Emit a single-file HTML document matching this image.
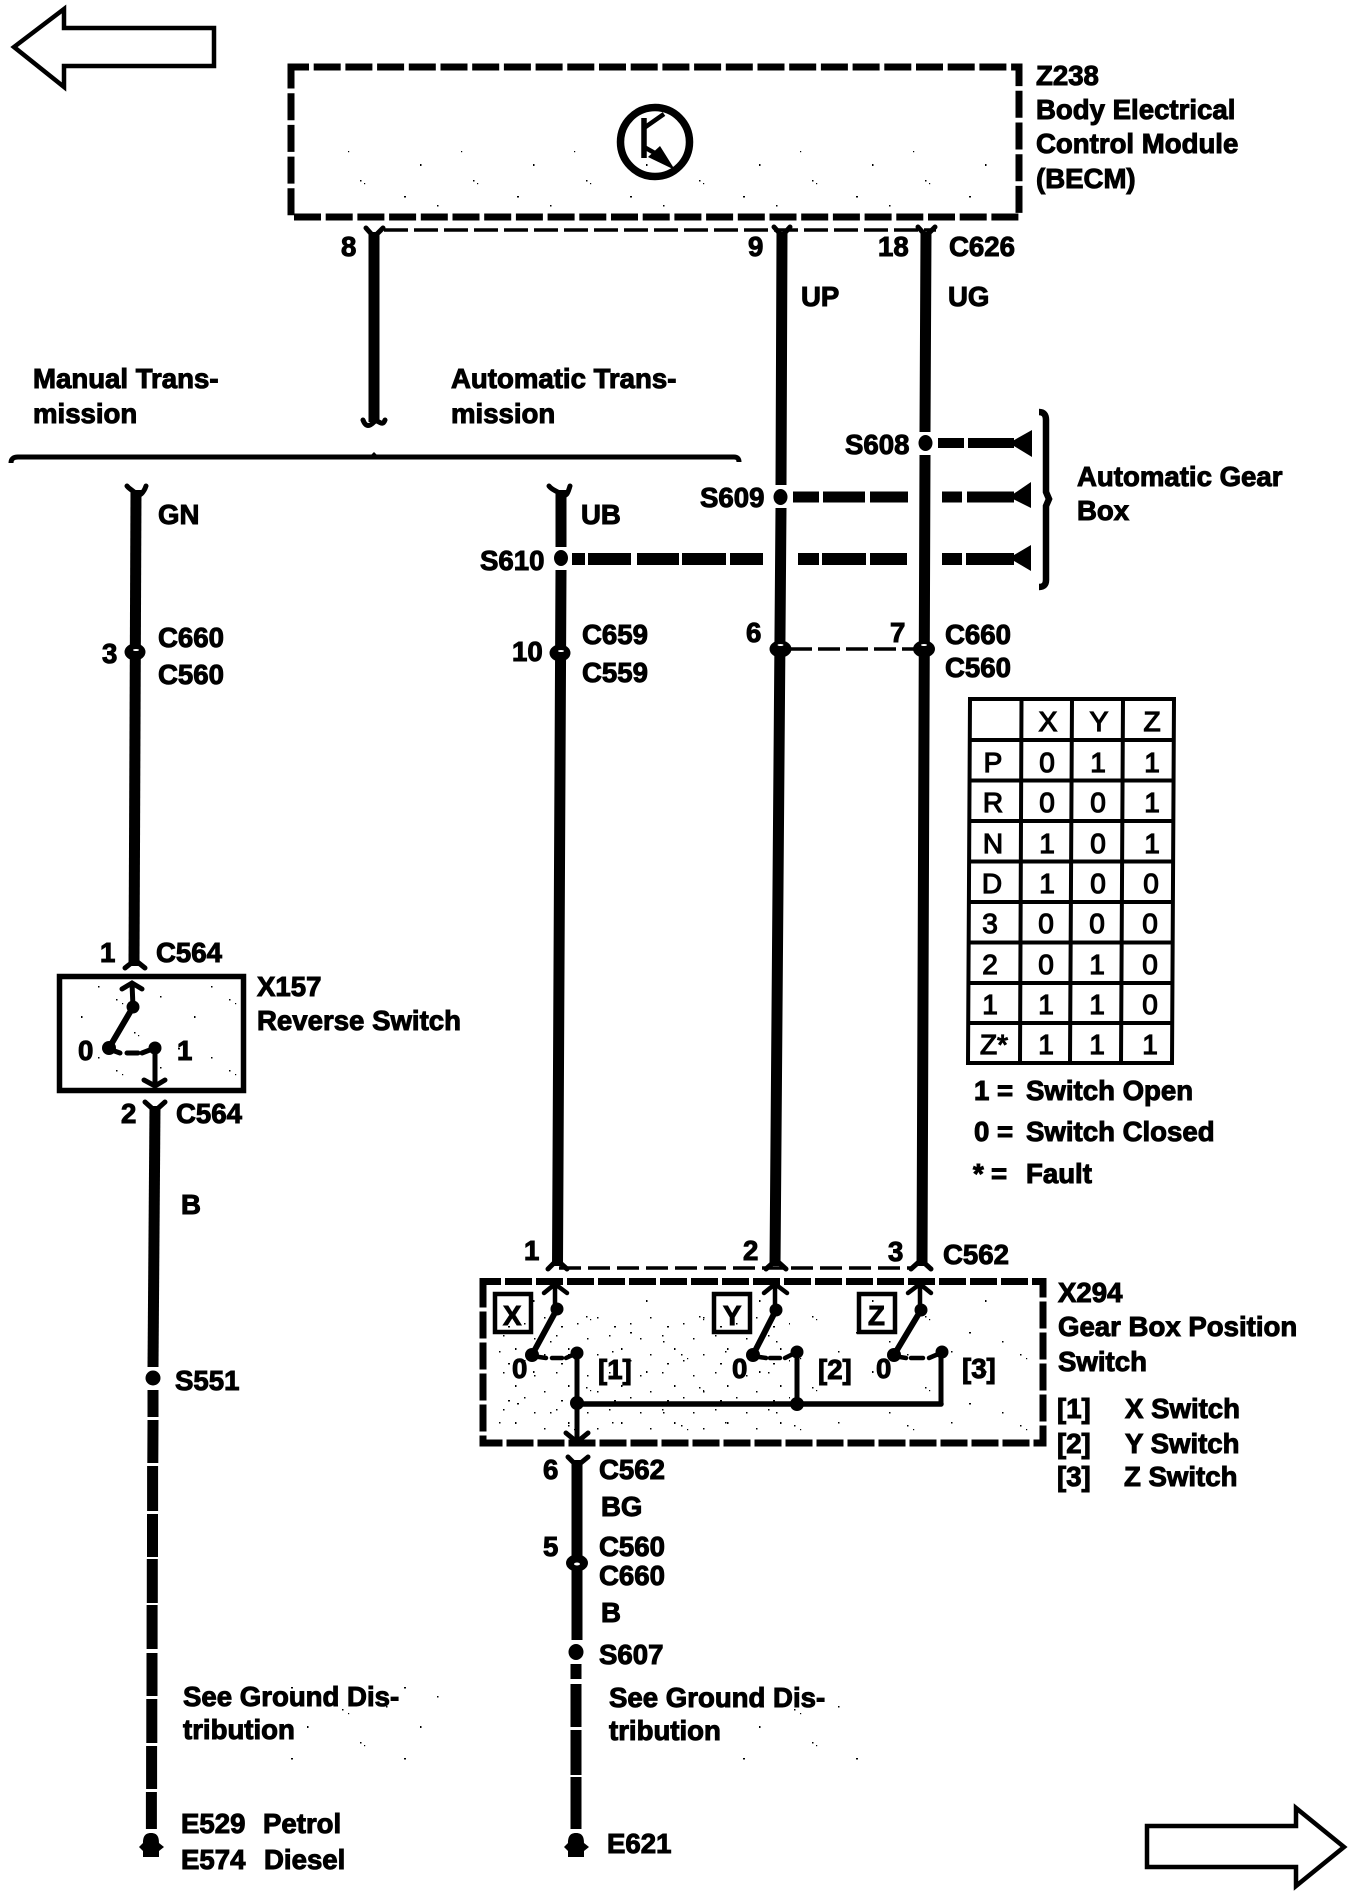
<!DOCTYPE html>
<html><head><meta charset="utf-8"><style>
html,body{margin:0;padding:0;background:#fff}
svg{display:block}
text{font-family:"Liberation Sans",Arial,sans-serif;font-weight:700;font-size:27.6px;fill:#000;stroke:#000;stroke-width:1px}
.t text{font-weight:400;font-size:28px;text-anchor:middle;stroke-width:1.2px}
</style></head><body>
<svg width="1360" height="1894" viewBox="0 0 1360 1894" xmlns="http://www.w3.org/2000/svg">
<defs>
<pattern id="sp" width="113" height="71" patternUnits="userSpaceOnUse">
<rect x="3" y="5" width="1.5" height="1.5"/><rect x="9" y="9" width="1.2" height="1.2"/><rect x="47" y="2" width="1.5" height="1.5"/><rect x="81" y="22" width="1.5" height="2"/><rect x="21" y="38" width="1.5" height="1.5"/><rect x="25" y="41" width="1.2" height="1.2"/><rect x="65" y="54" width="2" height="1.5"/><rect x="98" y="63" width="1.5" height="1.5"/>
</pattern>
<pattern id="sq" width="53" height="37" patternUnits="userSpaceOnUse">
<rect x="4" y="6" width="1.5" height="1.5"/><rect x="26" y="3" width="1.5" height="1.5"/><rect x="38" y="16" width="1.5" height="2"/><rect x="14" y="22" width="1.5" height="1.5"/><rect x="31" y="31" width="2" height="1.5"/><rect x="47" y="28" width="1.5" height="1.5"/>
</pattern>
</defs>
<rect width="1360" height="1894" fill="#fff"/>

<!-- speckle -->
<rect x="330" y="150" width="660" height="62" fill="url(#sp)"/>
<rect x="70" y="985" width="170" height="100" fill="url(#sp)"/>
<rect x="490" y="1290" width="545" height="148" fill="url(#sp)"/>
<rect x="500" y="1315" width="290" height="115" fill="url(#sq)"/>
<rect x="290" y="1685" width="160" height="80" fill="url(#sp)"/>
<rect x="720" y="1690" width="150" height="70" fill="url(#sp)"/>

<!-- page arrows -->
<g fill="none" stroke="#000" stroke-width="4.5" stroke-linejoin="miter">
<path d="M214 28V66H64V87L14 47L64 9V28Z"/>
<path d="M1147 1826V1867H1296V1886L1344 1847L1296 1808V1826Z"/>
</g>

<!-- BECM -->
<rect x="291" y="67" width="728" height="150" fill="none" stroke="#000" stroke-width="7" stroke-dasharray="27 4.7" stroke-dashoffset="9"/>
<circle cx="655" cy="142" r="34.5" fill="none" stroke="#000" stroke-width="7.5"/>
<path d="M644 118V158" stroke="#000" stroke-width="5.5"/>
<path d="M644 128L664 114M644 147L660 156" stroke="#000" stroke-width="4.5" fill="none"/>
<path d="M660 146L675 170L648 157Z"/>
<path d="M384 230H936" stroke="#000" stroke-width="3.5" stroke-dasharray="24 6" fill="none"/>

<!-- wires -->
<g stroke="#000" stroke-width="11" fill="none">
<path d="M374 232V422"/>
<path d="M782 232L781 485M781 508L775 1266"/>
<path d="M926 232L925 432M925 455L922 1266"/>
<path d="M561 490V547M561 570L557.5 1266"/>
<path d="M136 490L134 966"/>
<path d="M155 1106L153 1367"/>
<path d="M153 1390V1417M153 1420L152.8 1463M152.6 1466V1511M152.5 1514V1557M152.3 1559V1603M152.1 1605V1649M152 1653V1696M151.8 1699V1743M151.6 1746V1789M151.4 1792V1829"/>
<path d="M577 1460V1640M576 1664V1679M576 1684V1727M576 1730V1775M576 1777V1829"/>
</g>

<!-- forks -->
<g stroke="#000" stroke-width="5" fill="none" stroke-linecap="round">
<path d="M366 228L374 237L383 228M774 227L782 236L790 227M918 227L926 236L935 227"/>
<path d="M125 968L135 960L145 968M548 1269L557 1260L567 1269M766 1269L776 1260L786 1269M911 1269L921 1260L931 1269"/>
<path d="M145 1102L155 1111L165 1102M568 1457L577 1466L588 1457"/>
<path d="M363 420C366 428 370 426 374 422S382 428 385 420"/>
<path d="M127 486C130 490 133 490 136 494S144 492 146 486M549 486C552 490 555 490 561 494S568 492 570 486"/>
</g>
<path d="M559 1268H912" stroke="#000" stroke-width="3.5" stroke-dasharray="22 7" fill="none"/>

<!-- horizontal divider -->
<path d="M11 463Q11 457 18 457H734Q739 457 739 462" stroke="#000" stroke-width="5" fill="none"/>
<path d="M371 455L374 452L377 455Z"/>

<!-- splices -->
<g>
<ellipse cx="925.5" cy="443" rx="7" ry="8"/>
<ellipse cx="780.5" cy="497" rx="7" ry="8"/>
<ellipse cx="561" cy="558" rx="7" ry="8"/>
<ellipse cx="153" cy="1378" rx="7.5" ry="7.5"/>
<ellipse cx="576" cy="1652" rx="7.5" ry="8"/>
</g>

<!-- S dashes -->
<g>
<rect x="938" y="438" width="26" height="10"/><rect x="968" y="438" width="46" height="10"/><path d="M1009 443L1032 430V457Z"/>
<rect x="793" y="491.500" width="26" height="11"/><rect x="823" y="491.500" width="42" height="11"/><rect x="870" y="491.500" width="38" height="11"/><rect x="942" y="491.500" width="20" height="11"/><rect x="967" y="491.500" width="47" height="11"/><path d="M1009 497L1031 482V508Z"/>
<rect x="572" y="553" width="13" height="12"/><rect x="588" y="553" width="43" height="12"/><rect x="637" y="553" width="42" height="12"/><rect x="682" y="553" width="44" height="12"/><rect x="730" y="553" width="33" height="12"/><rect x="798" y="553" width="21" height="12"/><rect x="822" y="553" width="44" height="12"/><rect x="870" y="553" width="37" height="12"/><rect x="942" y="553" width="20" height="12"/><rect x="966" y="553" width="48" height="12"/><path d="M1009 558L1031 545V571Z"/>
</g>

<!-- bracket -->
<path d="M1039 412Q1046 412 1046 420V492L1049 499L1046 506V580Q1046 587 1039 587" fill="none" stroke="#000" stroke-width="6.5"/>

<!-- C connectors -->
<g>
<ellipse cx="135" cy="652" rx="10.500" ry="8.500"/><ellipse cx="560" cy="653" rx="10.500" ry="8.500"/><ellipse cx="780.500" cy="649" rx="11" ry="8.500"/><ellipse cx="924" cy="649" rx="11" ry="8.500"/><ellipse cx="577" cy="1563" rx="11" ry="8.500"/>
</g>
<g fill="#fff">
<ellipse cx="136" cy="650" rx="3" ry="1"/><ellipse cx="561" cy="651" rx="3" ry="1"/><ellipse cx="780.500" cy="645" rx="3" ry="1"/><ellipse cx="924" cy="645" rx="3" ry="1"/><ellipse cx="577" cy="1564" rx="3" ry="1.500"/>
</g>
<path d="M790 649H915" stroke="#000" stroke-width="3.5" stroke-dasharray="22 6" fill="none"/>

<!-- X157 -->
<rect x="59.500" y="976.500" width="184" height="114" fill="none" stroke="#000" stroke-width="5.500"/>
<g stroke="#000" fill="none" stroke-width="5" stroke-linecap="round">
<path d="M133 1007L132 983M122 989L132 983L142 989"/>
<path d="M133 1007L109 1048" stroke-width="6"/>
<path d="M109 1049L120 1053M127 1053H138M142 1053L155 1048"/>
<path d="M155 1048V1084M144 1080L155 1086L165 1080"/>
</g>
<circle cx="133" cy="1007" r="6.500"/><circle cx="109" cy="1048" r="7"/><circle cx="155" cy="1048" r="6.500"/>

<!-- X294 -->
<rect x="483" y="1281.500" width="560" height="161.500" fill="none" stroke="#000" stroke-width="7" stroke-dasharray="27 4" stroke-dashoffset="9"/>
<g fill="none" stroke="#000" stroke-width="4.500" stroke-linecap="round">
<rect x="495" y="1294" width="36" height="38"/><rect x="714" y="1294" width="36" height="38"/><rect x="859" y="1294" width="36" height="38"/>
<path d="M555 1284V1309M544 1293L555 1284L567 1293"/>
<path d="M775 1284V1309M764 1293L775 1284L787 1293"/>
<path d="M920 1284V1309M908 1293L920 1284L931 1293"/>
<path d="M557 1309L532 1355M776 1310L753 1355M921 1310L894 1355" stroke-width="6"/>
<path d="M532 1356L546 1358M552 1358H562M566 1358L577 1353"/>
<path d="M753 1356L766 1358M770 1358H780M785 1358L797 1352"/>
<path d="M894 1356L906 1358M911 1358H923M929 1358L943 1352"/>
<path d="M577 1353V1440M566 1433L577 1442L588 1433M797 1352V1404M941 1352V1404" stroke-width="5"/>
<path d="M577 1404H941" stroke-width="5.500"/>
</g>
<g>
<circle cx="557" cy="1309" r="6.500"/><circle cx="532" cy="1355" r="7"/><circle cx="577" cy="1353" r="6.500"/><circle cx="577" cy="1403" r="7"/>
<circle cx="776" cy="1310" r="6.500"/><circle cx="753" cy="1355" r="7"/><circle cx="797" cy="1352" r="6.500"/><circle cx="797" cy="1404" r="7"/>
<circle cx="921" cy="1310" r="6.500"/><circle cx="894" cy="1355" r="7"/><circle cx="942" cy="1352" r="6.500"/>
</g>

<!-- grounds -->
<g>
<path d="M151 1833C144 1833 143 1838 143 1843L139 1847L143 1851V1857H159V1851L164 1847L159 1843C159 1838 158 1833 151 1833Z"/>
<path d="M576 1833C569 1833 568 1838 568 1843L564 1847L568 1851V1857H584V1851L589 1847L584 1843C584 1838 583 1833 576 1833Z"/>
</g>

<!-- table -->
<g stroke="#000" stroke-width="4" fill="none">
<path d="M970 699H1174L1172 1063H968Z"/>
<path d="M1021.500 699L1020 1063M1072 699L1070 1063M1123 699L1121 1063"/>
<path d="M970 740H1173.500M969.800 780.500H1173.300M969.500 821H1173M969.300 861.500H1173M969 902H1172.800M968.800 942.500H1172.500M968.500 983H1172.300M968.300 1023H1172"/>
</g>
<g class="t">
<text x="1048" y="731">X</text><text x="1099" y="731">Y</text><text x="1152" y="731">Z</text>
<text x="993" y="772">P</text><text x="1047" y="772">0</text><text x="1098" y="772">1</text><text x="1152" y="772">1</text>
<text x="993" y="812">R</text><text x="1047" y="812">0</text><text x="1098" y="812">0</text><text x="1152" y="812">1</text>
<text x="993" y="853">N</text><text x="1047" y="853">1</text><text x="1098" y="853">0</text><text x="1152" y="853">1</text>
<text x="992" y="893">D</text><text x="1047" y="893">1</text><text x="1098" y="893">0</text><text x="1151" y="893">0</text>
<text x="990" y="933">3</text><text x="1046" y="933">0</text><text x="1097" y="933">0</text><text x="1150" y="933">0</text>
<text x="990" y="974">2</text><text x="1046" y="974">0</text><text x="1097" y="974">1</text><text x="1150" y="974">0</text>
<text x="990" y="1014">1</text><text x="1046" y="1014">1</text><text x="1097" y="1014">1</text><text x="1150" y="1014">0</text>
<text x="994" y="1054">Z*</text><text x="1046" y="1054">1</text><text x="1097" y="1054">1</text><text x="1150" y="1054">1</text>
</g>

<!-- labels -->
<text x="1036" y="85">Z238</text>
<text x="1036" y="119">Body Electrical</text>
<text x="1036" y="153">Control Module</text>
<text x="1036" y="188">(BECM)</text>
<text x="341" y="256">8</text><text x="748" y="256">9</text><text x="878" y="256">18</text><text x="949" y="256">C626</text>
<text x="801" y="306">UP</text><text x="948" y="306">UG</text>
<text x="33" y="388">Manual Trans-</text><text x="33" y="423">mission</text>
<text x="451" y="388">Automatic Trans-</text><text x="451" y="423">mission</text>
<text x="845" y="454">S608</text><text x="700" y="507">S609</text><text x="480" y="570">S610</text>
<text x="1077" y="486">Automatic Gear</text><text x="1077" y="520">Box</text>
<text x="158" y="524">GN</text><text x="581" y="524">UB</text>
<text x="158" y="647">C660</text><text x="158" y="684">C560</text><text x="102" y="663">3</text>
<text x="512" y="661">10</text><text x="582" y="644">C659</text><text x="582" y="682">C559</text>
<text x="746" y="642">6</text><text x="890" y="642">7</text><text x="945" y="644">C660</text><text x="945" y="677">C560</text>
<text x="974" y="1100">1 =</text><text x="1026" y="1100">Switch Open</text>
<text x="974" y="1141">0 =</text><text x="1026" y="1141">Switch Closed</text>
<text x="973" y="1183">*</text><text x="991" y="1183">=</text><text x="1026" y="1183">Fault</text>
<text x="100" y="962">1</text><text x="156" y="962">C564</text>
<text x="257" y="996">X157</text><text x="257" y="1030">Reverse Switch</text>
<text x="78" y="1060">0</text><text x="177" y="1060">1</text>
<text x="121" y="1123">2</text><text x="176" y="1123">C564</text>
<text x="181" y="1214">B</text><text x="175" y="1390">S551</text>
<text x="524" y="1260">1</text><text x="743" y="1260">2</text><text x="888" y="1261">3</text><text x="943" y="1264">C562</text>
<text x="503" y="1325">X</text><text x="723" y="1325">Y</text><text x="868" y="1325">Z</text>
<text x="512" y="1378">0</text><text x="732" y="1378">0</text><text x="876" y="1378">0</text>
<text x="598" y="1379">[1]</text><text x="818" y="1379">[2]</text><text x="962" y="1378">[3]</text>
<text x="1058" y="1302">X294</text><text x="1058" y="1336">Gear Box Position</text><text x="1058" y="1371">Switch</text>
<text x="1057" y="1418">[1]</text><text x="1125" y="1418">X Switch</text>
<text x="1057" y="1453">[2]</text><text x="1125" y="1453">Y Switch</text>
<text x="1057" y="1486">[3]</text><text x="1124" y="1486">Z Switch</text>
<text x="543" y="1479">6</text><text x="599" y="1479">C562</text><text x="601" y="1516">BG</text>
<text x="543" y="1556">5</text><text x="599" y="1556">C560</text><text x="599" y="1585">C660</text>
<text x="601" y="1622">B</text><text x="599" y="1664">S607</text>
<text x="183" y="1706">See Ground Dis-</text><text x="183" y="1739">tribution</text>
<text x="609" y="1707">See Ground Dis-</text><text x="609" y="1740">tribution</text>
<text x="181" y="1833">E529</text><text x="263" y="1833">Petrol</text>
<text x="181" y="1869">E574</text><text x="264" y="1869">Diesel</text>
<text x="607" y="1853">E621</text>
</svg>
</body></html>
